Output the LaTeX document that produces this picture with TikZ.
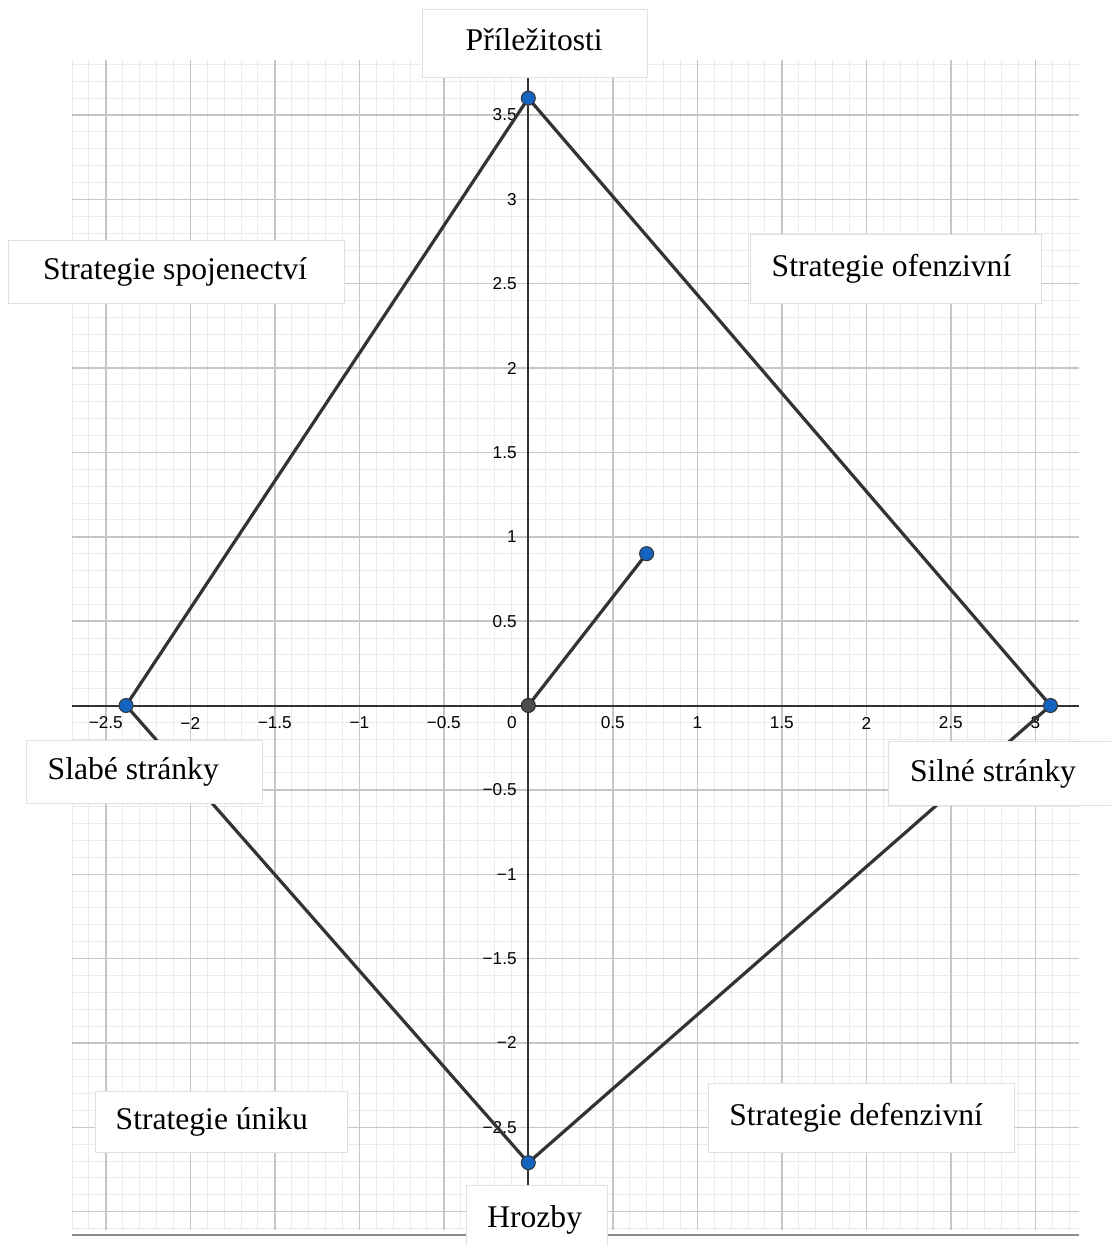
\documentclass[tikz,border=0pt]{standalone}
\usepackage{fontspec}
\setmainfont{Liberation Serif}
\newfontfamily\ticksfont{Liberation Sans}
\definecolor{gridminor}{HTML}{EBEBEB}
\definecolor{gridmajor}{HTML}{C6C6C6}
\definecolor{axiscol}{HTML}{333333}
\definecolor{segcol}{HTML}{333333}
\definecolor{ptblue}{HTML}{1565C0}
\definecolor{ptgray}{HTML}{4D4D4D}
\definecolor{boxborder}{HTML}{E0E0E0}
\definecolor{sepline}{HTML}{8C8C8C}
\newcommand\lbltext[2]{\makebox[#1][l]{#2}}
\begin{document}
\begin{tikzpicture}[x=0.5pt,y=-0.5pt,
  minorgrid/.style={draw=gridminor,line width=0.5pt},
  majorgrid/.style={draw=gridmajor,line width=0.7pt},
  axisline/.style={draw=axiscol,line width=1pt},
  ticklbl/.style={font=\ticksfont\fontsize{8.6}{10}\selectfont, text=black, inner sep=0pt},
  seg/.style={draw=segcol,line width=1.6pt,line cap=round,line join=round},
  bluept/.style={circle,fill=ptblue,draw=black!80,line width=0.5pt,minimum size=7pt,inner sep=0pt},
  graypt/.style={circle,fill=ptgray,draw=black!85,line width=0.5pt,minimum size=7pt,inner sep=0pt},
  labelbox/.style={draw=boxborder,line width=0.5pt,fill=white,font=\fontsize{15.8}{18}\selectfont,text height=10.5pt,text depth=3pt,inner ysep=0pt}
]
\useasboundingbox[fill=white] (0,0) rectangle (1111,1246);
\begin{scope}[shift={(528.3,705.5)},x=84.5pt,y=84.35pt]
  \def\xmin{-2.7}\def\xmax{3.258}\def\ymin{-3.109}\def\ymax{3.826}
  % minor grid
  \foreach \i in {-27,...,32} \draw[minorgrid] ({\i/10},\ymin) -- ({\i/10},\ymax);
  \foreach \j in {-31,...,38} \draw[minorgrid] (\xmin,{\j/10}) -- (\xmax,{\j/10});
  % major grid
  \foreach \v in {-2.5,-2,-1.5,-1,-0.5,0.5,1,1.5,2,2.5,3} \draw[majorgrid] (\v,\ymin) -- (\v,\ymax);
  \foreach \v in {-3,-2.5,-2,-1.5,-1,-0.5,0.5,1,1.5,2,2.5,3,3.5} \draw[majorgrid] (\xmin,\v) -- (\xmax,\v);
  % separator line at the bottom
  \coordinate (sepL) at (\xmin,-3.139);
  \coordinate (sepR) at (\xmax,-3.139);
  \draw[draw=sepline,line width=0.6pt] (sepL) -- (sepR);
  % axes
  \coordinate (xaL) at (\xmin,0);
  \coordinate (xaR) at (\xmax,0);
  \coordinate (yaB) at (0,\ymin);
  \coordinate (yaT) at (0,\ymax);
  \draw[axisline] (xaL) -- (xaR);
  \draw[axisline] (yaB) -- (yaT);
  % tick labels
  \foreach \v/\t [count=\k] in {-2.5/−2.5,-2/−2,-1.5/−1.5,-1/−1,-0.5/−0.5,0.5/0.5,1/1,1.5/1.5,2/2,2.5/2.5,3/3}
    \node[ticklbl,anchor=center] (xt\k) at (\v,-0.104) {\t};
  \node[ticklbl,anchor=center] (xt0) at (-0.0968,-0.104) {0};
  \foreach \v/\t [count=\k] in {-2.5/−2.5,-2/−2,-1.5/−1.5,-1/−1,-0.5/−0.5,0.5/0.5,1/1,1.5/1.5,2/2,2.5/2.5,3/3,3.5/3.5}
    \node[ticklbl,anchor=east] (yt\k) at (-0.0669,\v) {\t};
  % geometry
  \coordinate (cP) at (0,3.6);
  \coordinate (cS) at (3.09,0);
  \coordinate (cH) at (0,-2.71);
  \coordinate (cW) at (-2.38,0);
  \coordinate (cO) at (0,0);
  \coordinate (cA) at (0.7,0.9);
  \draw[seg] (cP) -- (cS) -- (cH) -- (cW) -- cycle;
  \draw[seg] (cO) -- (cA);
  \node[bluept] (P) at (cP) {};
  \node[bluept] (S) at (cS) {};
  \node[bluept] (H) at (cH) {};
  \node[bluept] (W) at (cW) {};
  \node[bluept] (A) at (cA) {};
  \node[graypt] (O) at (cO) {};
\end{scope}
% label boxes (pixel coordinates)
\node[labelbox,inner xsep=21.5pt,minimum height=34.2pt] (prilezitosti) at (535.2,43.5) {\lbltext{69.5pt}{Příležitosti}};
\node[labelbox,inner xsep=17.35pt,minimum height=31.65pt] (spojenectvi) at (176.3,271.65) {\lbltext{133.3pt}{Strategie spojenectví}};
\node[labelbox,inner xsep=10.85pt,minimum height=34.5pt] (ofenzivni) at (895.85,268.8) {\lbltext{124.15pt}{Strategie ofenzivní}};
\node[labelbox,inner xsep=10.5pt,minimum height=31.65pt] (slabe) at (144.5,771.65) {\lbltext{96.8pt}{Slabé stránky}};
\node[labelbox,inner xsep=10.85pt,minimum height=32pt] (silne) at (1000.65,773.7) {\lbltext{90.65pt}{Silné stránky}};
\node[labelbox,inner xsep=10pt,minimum height=30.65pt] (uniku) at (221.7,1121.65) {\lbltext{106pt}{Strategie úniku}};
\node[labelbox,inner xsep=10.5pt,minimum height=34.5pt] (defenzivni) at (861.3,1117.8) {\lbltext{132pt}{Strategie defenzivní}};
\node[labelbox,inner xsep=10.3pt,minimum height=34.5pt] (hrozby) at (537.2,1219.5) {\lbltext{49.9pt}{Hrozby}};
\end{tikzpicture}
\end{document}
